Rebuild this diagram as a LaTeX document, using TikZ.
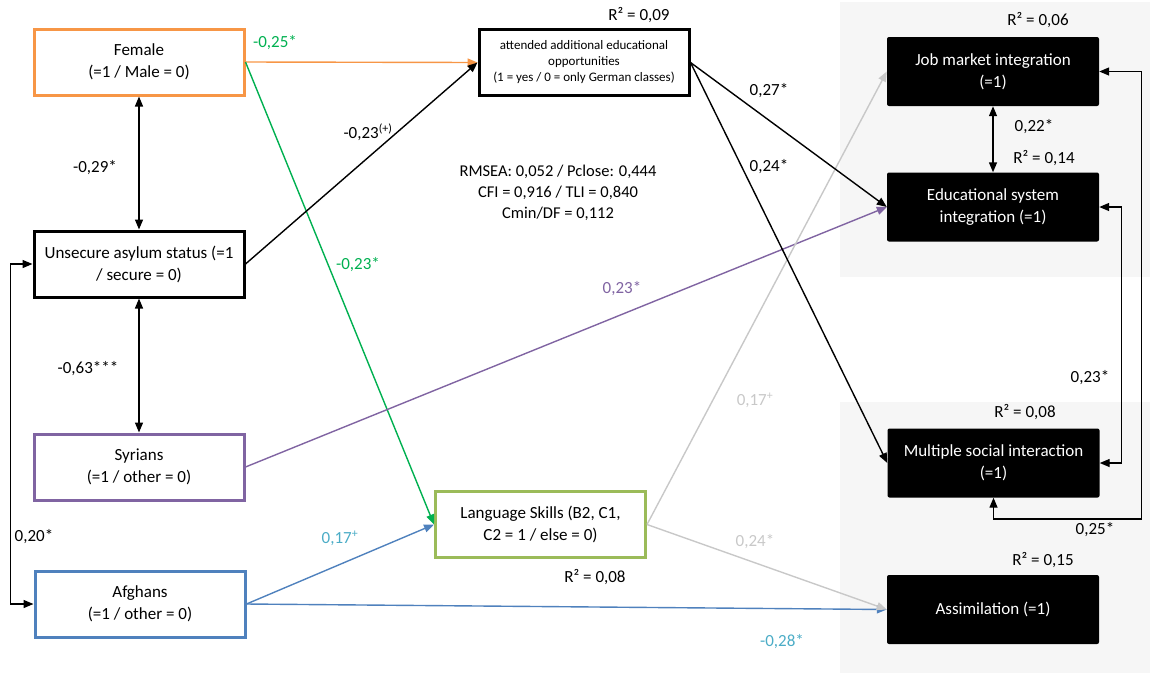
\documentclass[tikz,border=0pt]{standalone}
\usepackage{fontspec}
\setmainfont{Carlito}
\usetikzlibrary{arrows.meta}
\definecolor{femaleorange}{HTML}{F79646}
\definecolor{pathgreen}{HTML}{00B050}
\definecolor{langgreen}{HTML}{9BBB59}
\definecolor{syrpurple}{HTML}{8064A2}
\definecolor{afgblue}{HTML}{4F81BD}
\definecolor{lblcyan}{HTML}{4BACC6}
\definecolor{langgray}{HTML}{C8C8C8}
\definecolor{panelgray}{HTML}{F6F6F6}
\tikzset{
  tip/.tip={Triangle[length=10pt,width=8pt]},
  box/.style={draw, line width=3pt, fill=white, minimum width=210pt, minimum height=66pt,
    align=center, inner sep=2pt, font=\fontsize{17}{22}\selectfont},
  outbox/.style={fill=black, text=white, rounded corners=2pt, minimum width=212pt,
    minimum height=69pt, align=center, inner sep=2pt, font=\fontsize{17}{22}\selectfont},
  link/.style={line width=1.4pt, -tip},
  dlink/.style={line width=1.4pt, tip-tip},
  lbl/.style={inner sep=0pt, font=\fontsize{17}{21}\selectfont},
}
\begin{document}
\begin{tikzpicture}[x=1pt,y=-1pt]
\useasboundingbox (0,0) rectangle (1150,673);
% grey panels behind the outcomes
\fill[panelgray] (840,2) rectangle (1150,277);
\fill[panelgray] (840,402) rectangle (1150,673);

% predictors
\node[box, draw=femaleorange] (female) at (139,62) {Female\\(=1 / Male = 0)};
\node[box] (unsecure) at (139,264) {Unsecure asylum status (=1\\/ secure = 0)};
\node[box, draw=syrpurple] (syrians) at (139,467) {Syrians\\(=1 / other = 0)};
\node[box, draw=afgblue] (afghans) at (140,604) {Afghans\\(=1 / other = 0)};

% mediators
\node[box, font=\fontsize{13}{16}\selectfont] (attended) at (584,62.5)
  {attended additional educational\\opportunities\\(1 = yes / 0 = only German classes)};
\node[box, draw=langgreen] (language) at (540.5,524.5) {Language Skills (B2, C1,\\C2 = 1 / else = 0)};

% outcomes
\node[outbox] (job) at (993,71.5) {Job market integration\\(=1)};
\node[outbox] (educ) at (993,207) {Educational system\\integration (=1)};
\node[outbox] (multi) at (993.5,463) {Multiple social interaction\\(=1)};
\node[outbox] (assim) at (993,609.5) {Assimilation (=1)};

% covariances
\draw[dlink] (female) -- (unsecure);
\draw[dlink] (unsecure) -- (syrians);
\draw[dlink] (afghans.west) -- ++(-23,0) |- (unsecure.west);
\draw[dlink] (job) -- (educ);
\draw[dlink] (educ.east) -- ++(22,0) |- (multi.east);
\draw[dlink] (job.east) -- ++(42,0) -- ++(0,447.5) -| (multi.south);

% paths
\draw[link, femaleorange] (female.east) -- (attended.west);
\draw[link, pathgreen] (female.east) -- (language.west);
\draw[link] (unsecure.east) -- (attended.west);
\draw[link, syrpurple] (syrians.east) -- (educ.west);
\draw[link, afgblue] (afghans.east) -- (language.west);
\draw[link, afgblue] (afghans.east) -- (assim.west);
\draw[link, langgray] (language.east) -- (job.west);
\draw[link, langgray] (language.east) -- (assim.west);
\draw[link] (attended.east) -- (educ.west);
\draw[link] (attended.east) -- (multi.west);

% coefficients
\node[lbl, text=pathgreen] (cfa) at (275,43) {-0,25*};
\node[lbl] (cfu) at (95,168) {-0,29*};
\node[lbl] (cua) at (368,132) {-0,23\textsuperscript{(+)}};
\node[lbl, text=pathgreen] (cfl) at (358,265) {-0,23*};
\node[lbl] (cus) at (88,369) {-0,63***};
\node[lbl] (cau) at (34,537) {0,20*};
\node[lbl, text=syrpurple] (cse) at (622,289) {0,23*};
\node[lbl, text=lblcyan] (cal) at (340,538) {0,17\textsuperscript{+}};
\node[lbl, text=lblcyan] (caa) at (782,642) {-0,28*};
\node[lbl, text=langgray] (clj) at (755,400) {0,17\textsuperscript{+}};
\node[lbl, text=langgray] (cla) at (755,542) {0,24*};
\node[lbl] (cae) at (769,91) {0,27*};
\node[lbl] (cam) at (769,167) {0,24*};
\node[lbl] (cje) at (1034,127) {0,22*};
\node[lbl] (cem) at (1090,378) {0,23*};
\node[lbl] (cjm) at (1095,530) {0,25*};

% explained variance
\node[lbl] (rat) at (639,15) {R² = 0,09};
\node[lbl] (rjob) at (1038,20) {R² = 0,06};
\node[lbl] (redu) at (1044,158) {R² = 0,14};
\node[lbl] (rmul) at (1025,412) {R² = 0,08};
\node[lbl] (rass) at (1043,560) {R² = 0,15};
\node[lbl] (rlan) at (595,577) {R² = 0,08};

% model fit
\node[lbl, align=center, font=\fontsize{16.5}{21}\selectfont] (fit) at (558,193)
  {RMSEA: 0,052 / Pclose: 0,444\\CFI = 0,916 / TLI = 0,840\\Cmin/DF = 0,112};
\end{tikzpicture}
\end{document}
